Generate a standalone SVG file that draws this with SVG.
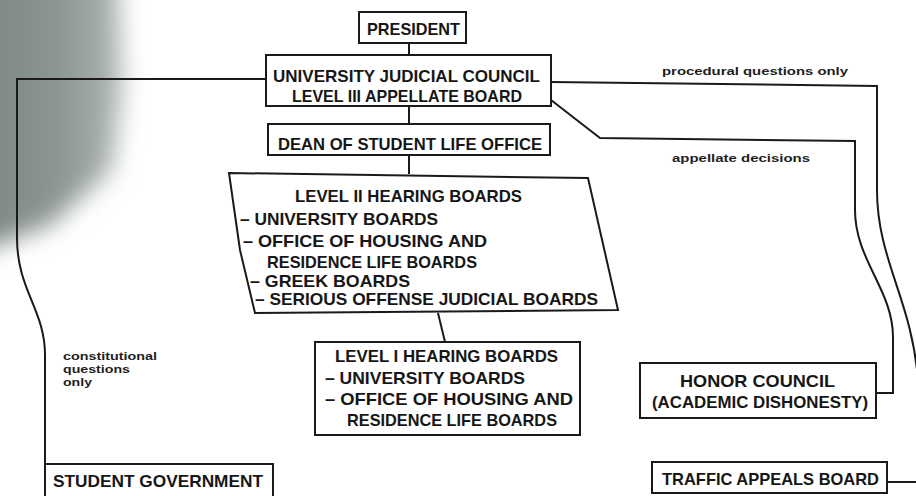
<svg xmlns="http://www.w3.org/2000/svg" width="916" height="496" viewBox="0 0 916 496">
<defs>
<filter id="blur" x="-50%" y="-50%" width="200%" height="200%"><feGaussianBlur stdDeviation="12"/></filter>
<linearGradient id="g" x1="0" y1="0" x2="1" y2="0"><stop offset="0" stop-color="#7a8583"/><stop offset="0.6" stop-color="#8c9694"/><stop offset="1" stop-color="#b0b8b6"/></linearGradient>
<style>
.box{fill:#fff;stroke:#1a1a1a;stroke-width:2}
.ln{fill:none;stroke:#1a1a1a;stroke-width:2}
.t{font-family:"Liberation Sans",Arial,sans-serif;font-weight:bold;fill:#161616;font-size:17px}
.s{font-family:"Liberation Sans",Arial,sans-serif;font-weight:bold;fill:#1e1e1e;font-size:11px}
</style>
</defs>
<rect width="916" height="496" fill="#fff"/>
<path d="M-30,-30 L118,-30 L122,90 L112,170 L50,225 L-30,255 Z" fill="url(#g)" filter="url(#blur)"/>
<g id="connectors">
<line class="ln" x1="409" y1="43" x2="409" y2="55"/>
<line class="ln" x1="409" y1="106" x2="409" y2="124"/>
<line class="ln" x1="409" y1="155" x2="409" y2="174"/>
<line class="ln" x1="438" y1="313" x2="445" y2="342"/>
<path class="ln" d="M266,79 H17 V238 C17,290 45,310 45,355 V464"/>
<path class="ln" d="M551,82 L877,86 V190 C877,260 912,300 918,380"/>
<path class="ln" d="M551,100 L600,138 L855,141 V210 C855,260 893,290 893,337 V393 H876"/>
<path class="ln" d="M887,482 H918"/>
</g>
<g id="president"><rect class="box" x="359" y="12" width="107" height="31"/><text class="t" x="367" y="35" textLength="93" lengthAdjust="spacingAndGlyphs">PRESIDENT</text></g>
<g id="ujc"><rect class="box" x="266" y="55" width="285" height="51"/>
<text class="t" x="273" y="82" textLength="267" lengthAdjust="spacingAndGlyphs">UNIVERSITY JUDICIAL COUNCIL</text>
<text class="t" x="292" y="102" textLength="230" lengthAdjust="spacingAndGlyphs">LEVEL III APPELLATE BOARD</text></g>
<g id="dean"><rect class="box" x="268" y="124" width="282" height="31"/>
<text class="t" x="278" y="150" textLength="264" lengthAdjust="spacingAndGlyphs">DEAN OF STUDENT LIFE OFFICE</text></g>
<g id="level2"><path class="box" d="M229,173 L588,178 L618,310 L255,313 L240,250 Z"/>
<text class="t" x="295" y="202" textLength="227" lengthAdjust="spacingAndGlyphs">LEVEL II HEARING BOARDS</text>
<text class="t" x="240" y="225" textLength="198" lengthAdjust="spacingAndGlyphs">– UNIVERSITY BOARDS</text>
<text class="t" x="243" y="247" textLength="244" lengthAdjust="spacingAndGlyphs">– OFFICE OF HOUSING AND</text>
<text class="t" x="267" y="268" textLength="210" lengthAdjust="spacingAndGlyphs">RESIDENCE LIFE BOARDS</text>
<text class="t" x="250" y="287" textLength="160" lengthAdjust="spacingAndGlyphs">– GREEK BOARDS</text>
<text class="t" x="255" y="305" textLength="343" lengthAdjust="spacingAndGlyphs">– SERIOUS OFFENSE JUDICIAL BOARDS</text></g>
<g id="level1"><rect class="box" x="315" y="342" width="265" height="93"/>
<text class="t" x="335" y="362" textLength="223" lengthAdjust="spacingAndGlyphs">LEVEL I HEARING BOARDS</text>
<text class="t" x="325" y="384" textLength="200" lengthAdjust="spacingAndGlyphs">– UNIVERSITY BOARDS</text>
<text class="t" x="325" y="405" textLength="248" lengthAdjust="spacingAndGlyphs">– OFFICE OF HOUSING AND</text>
<text class="t" x="347" y="426" textLength="210" lengthAdjust="spacingAndGlyphs">RESIDENCE LIFE BOARDS</text></g>
<g id="honor"><rect class="box" x="640" y="363" width="236" height="55"/>
<text class="t" x="680" y="387" textLength="155" lengthAdjust="spacingAndGlyphs">HONOR COUNCIL</text>
<text class="t" x="652" y="408" textLength="216" lengthAdjust="spacingAndGlyphs">(ACADEMIC DISHONESTY)</text></g>
<g id="traffic"><rect class="box" x="652" y="462" width="235" height="31"/>
<text class="t" x="662" y="485" textLength="217" lengthAdjust="spacingAndGlyphs">TRAFFIC APPEALS BOARD</text></g>
<g id="studentgov"><rect class="box" x="45" y="464" width="228" height="33"/>
<text class="t" x="53" y="487" textLength="210" lengthAdjust="spacingAndGlyphs">STUDENT GOVERNMENT</text></g>
<g id="labels">
<text class="s" x="662" y="75" textLength="186" lengthAdjust="spacingAndGlyphs">procedural questions only</text>
<text class="s" x="672" y="162" textLength="138" lengthAdjust="spacingAndGlyphs">appellate decisions</text>
<text class="s" x="63" y="360" textLength="94" lengthAdjust="spacingAndGlyphs">constitutional</text>
<text class="s" x="63" y="373" textLength="67" lengthAdjust="spacingAndGlyphs">questions</text>
<text class="s" x="63" y="386" textLength="29" lengthAdjust="spacingAndGlyphs">only</text>
</g>
</svg>
